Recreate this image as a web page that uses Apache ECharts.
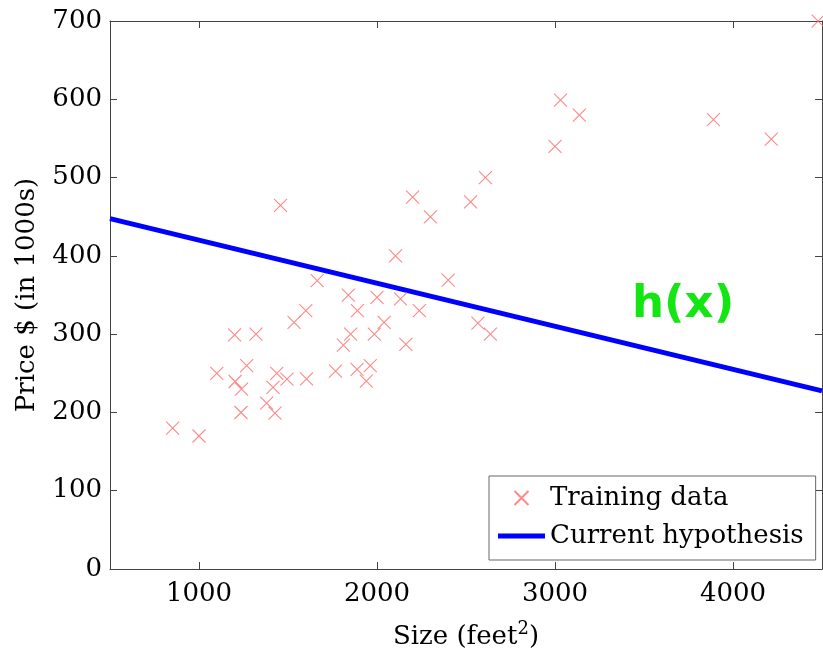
<!DOCTYPE html>
<html>
<head>
<meta charset="utf-8">
<script src="https://cdn.jsdelivr.net/npm/echarts@6/dist/echarts.min.js"></script>
<style>
html,body{margin:0;padding:0;background:#fff;}
#c{width:823px;height:657px;}
</style>
</head>
<body>
<div id="c"></div>
<script>
// Training data: size (feet^2) and price (in 1000s)
var sizes = [2104,1600,2400,1416,3000,1985,1534,1427,1380,1494,1940,2000,1890,4478,1268,2300,1320,1236,2609,3031,1767,1888,1604,1962,3890,1100,1458,2526,2200,2637,1839,1000,2040,3137,1811,1437,1239,2132,4215,2162,1664,2238,2567,1200,852,1852,1203];
var prices = [399.9,329.9,369.0,232.0,539.9,299.9,314.9,199.0,212.0,242.5,240.0,347.0,330.0,699.9,259.9,449.9,299.9,199.9,500.0,599.0,252.9,255.0,242.9,259.9,573.9,249.9,464.5,469.0,475.0,299.9,349.9,169.9,314.9,579.9,285.9,249.9,229.9,345.0,549.0,287.0,368.5,329.9,314.0,299.0,179.9,299.9,239.5];
// Current hypothesis line endpoints
var hypX = [500, 4500];
var hypY = [447.5, 227.5];
// Tick values
var xTicks = [1000, 2000, 3000, 4000];
var yTicks = [0, 100, 200, 300, 400, 500, 600, 700];

var scatterData = sizes.map(function(s, i){ return [s, prices[i]]; });
var lineData = hypX.map(function(x, i){ return [x, hypY[i]]; });

var FONT = 'DejaVu Serif';
var axisColor = '#444';
var chart = echarts.init(document.getElementById('c'), null, {renderer:'canvas'});

function xAxisCfg(pos, showLabel){
  return {
    type:'value', position:pos, min:500, max:4500,
    axisLine:{show:true, onZero:false, lineStyle:{color:axisColor, width:1}},
    axisTick:{show:true, inside:true, length:7, customValues:xTicks, lineStyle:{color:axisColor}},
    axisLabel:{show:showLabel, customValues:xTicks, margin:12, fontFamily:FONT, fontSize:26, color:'#000',
      formatter:function(v){ return String(v); }},
    splitLine:{show:false}
  };
}
function yAxisCfg(pos, showLabel){
  return {
    type:'value', position:pos, min:0, max:700, interval:100,
    axisLine:{show:true, onZero:false, lineStyle:{color:axisColor, width:1}},
    axisTick:{show:true, inside:true, length:7, lineStyle:{color:axisColor}},
    axisLabel:{show:showLabel, margin:8, fontFamily:FONT, fontSize:26, color:'#000',
      formatter:function(v){ return String(v); }},
    splitLine:{show:false}
  };
}

var xb = xAxisCfg('bottom', true);
xb.name = '{a|Size (feet}{s|2}{a|)}';
xb.nameLocation = 'middle';
xb.nameGap = 51;
xb.nameTextStyle = {rich:{
  a:{fontFamily:FONT, fontSize:26, color:'#000', verticalAlign:'bottom', lineHeight:30},
  s:{fontFamily:FONT, fontSize:18, color:'#000', verticalAlign:'top', padding:[0,0,14,0], lineHeight:30}
}};
var xt = xAxisCfg('top', false);

var yl = yAxisCfg('left', true);
yl.name = 'Price $ (in 1000s)';
yl.nameLocation = 'middle';
yl.nameGap = 70;
yl.nameTextStyle = {fontFamily:FONT, fontSize:26, color:'#000'};
var yr = yAxisCfg('right', false);

chart.setOption({
  backgroundColor:'#fff',
  animation:false,
  grid:{left:110, right:1, top:21, bottom:88, containLabel:false},
  xAxis:[xb, xt],
  yAxis:[yl, yr],
  legend:{
    orient:'vertical', left:489, top:476,
    backgroundColor:'#fff', borderColor:'#666', borderWidth:1, borderRadius:0,
    padding:[6,12,8,9], itemGap:6, itemWidth:47, itemHeight:14,
    textStyle:{fontFamily:FONT, fontSize:26, color:'#000', lineHeight:32},
    data:[
      {name:'Training data'},
      {name:'Current hypothesis', icon:'path://M0,0L0.001,0M0,4.5L47,4.5L47,9.5L0,9.5ZM47,14L46.999,14',
       itemStyle:{color:'#0000ff', borderWidth:0}}
    ]
  },
  series:[
    {
      name:'Training data', type:'scatter', xAxisIndex:0, yAxisIndex:0,
      data:scatterData, clip:false,
      symbol:'path://M0,0L10,10M10,0L0,10', symbolSize:13,
      itemStyle:{color:'rgba(0,0,0,0)', borderColor:'#ff6a6a', borderWidth:1.1},
      z:3
    },
    {
      name:'Current hypothesis', type:'line', xAxisIndex:0, yAxisIndex:0,
      data:lineData, showSymbol:false, symbol:'none',
      lineStyle:{color:'#0000ff', width:5}, itemStyle:{color:'#0000ff'},
      z:2
    }
  ],
  graphic:[{
    type:'text', left:632, top:283, z:10,
    style:{text:'h(x)', font:'bold 45px "DejaVu Sans"', fill:'#14e614'}
  }]
});
</script>
</body>
</html>
